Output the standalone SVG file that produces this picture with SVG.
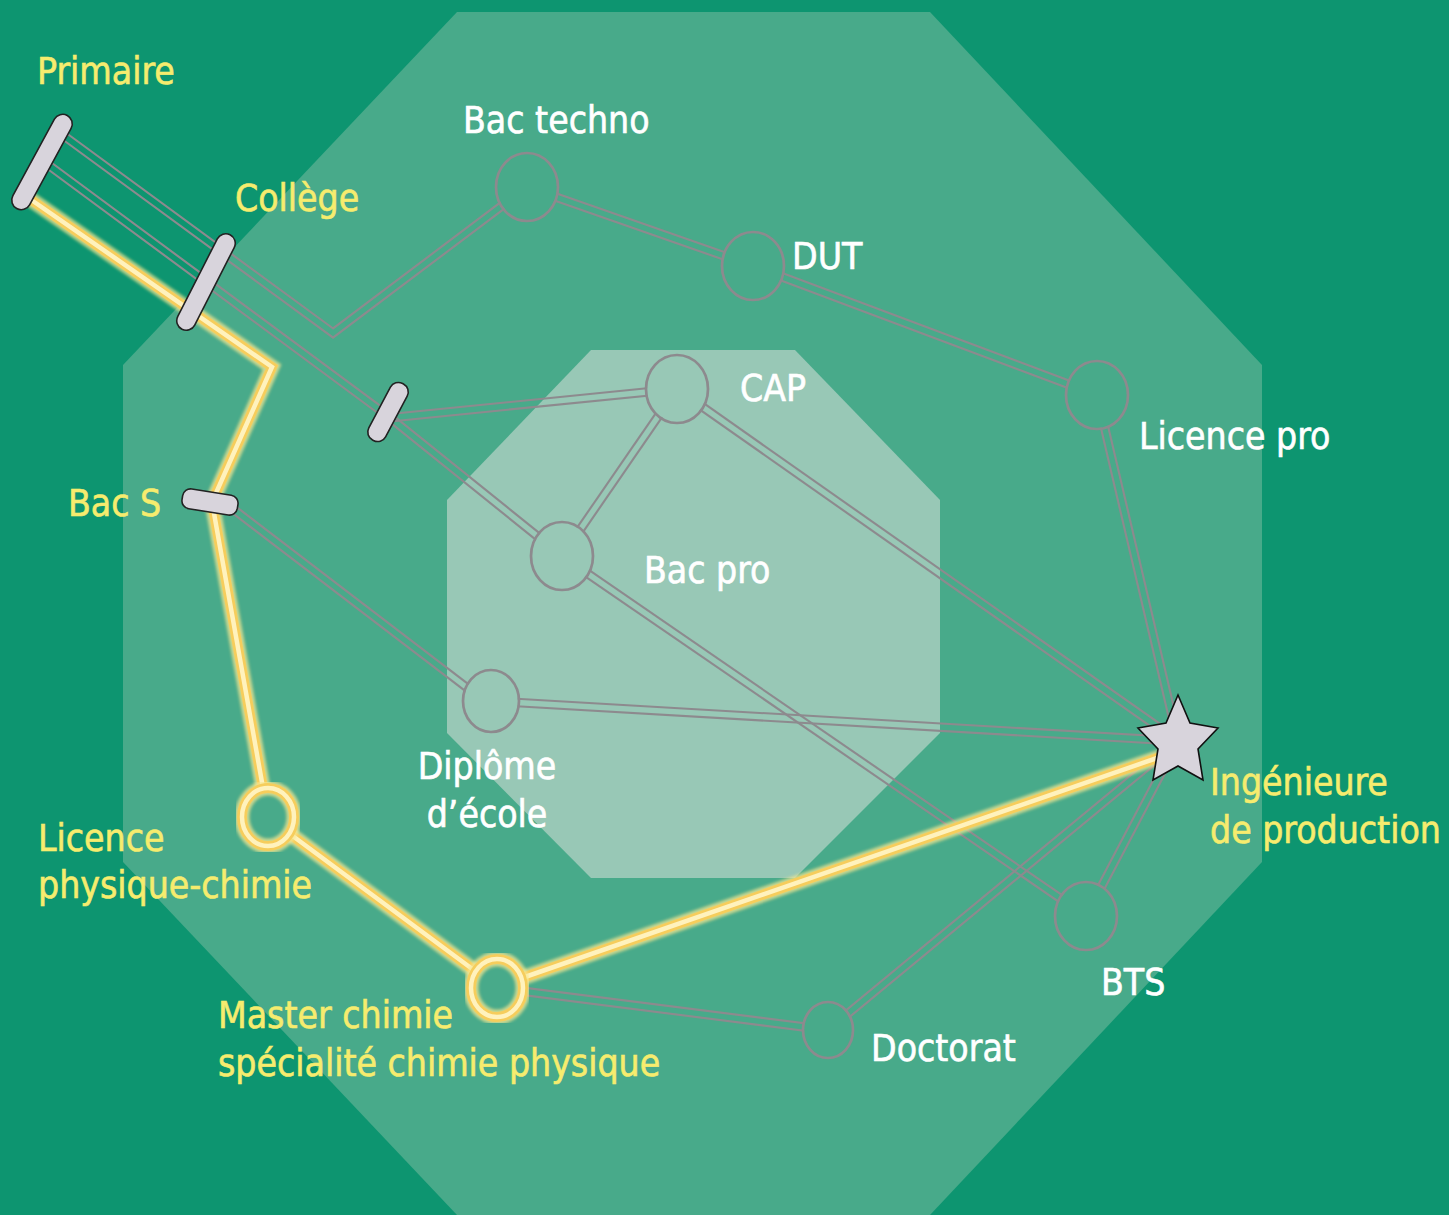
<svg xmlns="http://www.w3.org/2000/svg" xmlns:xlink="http://www.w3.org/1999/xlink" width="1449" height="1215" viewBox="0 0 1449 1215">
<style>
.t{font-family:"DejaVu Sans Condensed","DejaVu Sans",sans-serif;font-stretch:condensed;font-size:37px;stroke-width:0.6px}
.w{fill:#ffffff;stroke:#ffffff}
.y{fill:#f6ec6e;stroke:#f6ec6e}
.tube{fill:none;stroke:#8d8a8e;stroke-width:9.5;stroke-linejoin:miter}
.gap{fill:none;stroke:#000;stroke-width:5.3;stroke-linejoin:miter}
.node{fill:none;stroke:#8d8a8e;stroke-width:2.7}
.bar{fill:#d8d4dc;stroke:#222;stroke-width:1.6}
.yg{fill:none;stroke:#f6e792;stroke-width:15;opacity:.75}
.ym{fill:none;stroke:#f6cd5c;stroke-width:10}
.yc{fill:none;stroke:#fff2bd;stroke-width:4.5}
</style>
<defs>
<filter id="blur" x="-10%" y="-10%" width="120%" height="120%"><feGaussianBlur stdDeviation="1.4"/></filter>
<path id="c1" d="M60,133 L333,333 L527,187"/>
<path id="c2" d="M43,161 L388,416 L562,556"/>
<path id="c3" d="M388,418 L677,389"/>
<path id="c4" d="M527,187 L753,266"/>
<path id="c5" d="M753,266 L1097,395"/>
<path id="c6" d="M1097,395 L1178,741"/>
<path id="c7" d="M677,389 L1178,741"/>
<path id="c8" d="M677,389 L562,556"/>
<path id="c9" d="M562,556 L1086,916"/>
<path id="c10" d="M220,499 L470,690"/>
<path id="c11" d="M491,701 L1178,741"/>
<path id="c12" d="M1086,916 L1178,741"/>
<path id="c13" d="M497,988 L828,1030"/>
<path id="c14" d="M828,1030 L1178,741"/>
<path id="yp" d="M30,199 L272,367 L212,502 L263,788 M290,834 L475,971 M522,978 L1160,757"/>
<g id="holes" fill="#000">
<ellipse cx="527" cy="187" rx="30" ry="33"/>
<ellipse cx="753" cy="266" rx="30" ry="33"/>
<ellipse cx="1097" cy="395" rx="30" ry="33"/>
<ellipse cx="677" cy="389" rx="30" ry="33"/>
<ellipse cx="562" cy="556" rx="30" ry="33"/>
<ellipse cx="491" cy="701" rx="27" ry="30"/>
<ellipse cx="1086" cy="916" rx="30" ry="33"/>
<ellipse cx="828" cy="1030" rx="24" ry="27"/>
<ellipse cx="497" cy="988" rx="26" ry="29"/>
</g>
<mask id="m1" maskUnits="userSpaceOnUse" x="0" y="0" width="1449" height="1215"><rect width="1449" height="1215" fill="#fff"/><use href="#c1" class="gap"/><use href="#holes"/></mask>
<mask id="m2" maskUnits="userSpaceOnUse" x="0" y="0" width="1449" height="1215"><rect width="1449" height="1215" fill="#fff"/><use href="#c2" class="gap"/><use href="#holes"/></mask>
<mask id="m3" maskUnits="userSpaceOnUse" x="0" y="0" width="1449" height="1215"><rect width="1449" height="1215" fill="#fff"/><use href="#c3" class="gap"/><use href="#holes"/></mask>
<mask id="m4" maskUnits="userSpaceOnUse" x="0" y="0" width="1449" height="1215"><rect width="1449" height="1215" fill="#fff"/><use href="#c4" class="gap"/><use href="#holes"/></mask>
<mask id="m5" maskUnits="userSpaceOnUse" x="0" y="0" width="1449" height="1215"><rect width="1449" height="1215" fill="#fff"/><use href="#c5" class="gap"/><use href="#holes"/></mask>
<mask id="m6" maskUnits="userSpaceOnUse" x="0" y="0" width="1449" height="1215"><rect width="1449" height="1215" fill="#fff"/><use href="#c6" class="gap"/><use href="#holes"/></mask>
<mask id="m7" maskUnits="userSpaceOnUse" x="0" y="0" width="1449" height="1215"><rect width="1449" height="1215" fill="#fff"/><use href="#c7" class="gap"/><use href="#holes"/></mask>
<mask id="m8" maskUnits="userSpaceOnUse" x="0" y="0" width="1449" height="1215"><rect width="1449" height="1215" fill="#fff"/><use href="#c8" class="gap"/><use href="#holes"/></mask>
<mask id="m9" maskUnits="userSpaceOnUse" x="0" y="0" width="1449" height="1215"><rect width="1449" height="1215" fill="#fff"/><use href="#c9" class="gap"/><use href="#holes"/></mask>
<mask id="m10" maskUnits="userSpaceOnUse" x="0" y="0" width="1449" height="1215"><rect width="1449" height="1215" fill="#fff"/><use href="#c10" class="gap"/><use href="#holes"/></mask>
<mask id="m11" maskUnits="userSpaceOnUse" x="0" y="0" width="1449" height="1215"><rect width="1449" height="1215" fill="#fff"/><use href="#c11" class="gap"/><use href="#holes"/></mask>
<mask id="m12" maskUnits="userSpaceOnUse" x="0" y="0" width="1449" height="1215"><rect width="1449" height="1215" fill="#fff"/><use href="#c12" class="gap"/><use href="#holes"/></mask>
<mask id="m13" maskUnits="userSpaceOnUse" x="0" y="0" width="1449" height="1215"><rect width="1449" height="1215" fill="#fff"/><use href="#c13" class="gap"/><use href="#holes"/></mask>
<mask id="m14" maskUnits="userSpaceOnUse" x="0" y="0" width="1449" height="1215"><rect width="1449" height="1215" fill="#fff"/><use href="#c14" class="gap"/><use href="#holes"/></mask>
</defs>

<rect width="1449" height="1215" fill="#0d9570"/>
<polygon points="457,12 930,12 1262,365 1262,862 930,1215 457,1215 123,862 123,365" fill="#48aa8a"/>
<polygon points="591,350 795,350 940,500 940,733 795,878 591,878 447,733 447,500" fill="#98c8b6"/>

<g id="connectors">
<use href="#c1" class="tube" mask="url(#m1)"/>
<use href="#c2" class="tube" mask="url(#m2)"/>
<use href="#c3" class="tube" mask="url(#m3)"/>
<use href="#c4" class="tube" mask="url(#m4)"/>
<use href="#c5" class="tube" mask="url(#m5)"/>
<use href="#c6" class="tube" mask="url(#m6)"/>
<use href="#c7" class="tube" mask="url(#m7)"/>
<use href="#c8" class="tube" mask="url(#m8)"/>
<use href="#c9" class="tube" mask="url(#m9)"/>
<use href="#c10" class="tube" mask="url(#m10)"/>
<use href="#c11" class="tube" mask="url(#m11)"/>
<use href="#c12" class="tube" mask="url(#m12)"/>
<use href="#c13" class="tube" mask="url(#m13)"/>
<use href="#c14" class="tube" mask="url(#m14)"/>
<g id="path-highlight">
<use href="#yp" class="yg" filter="url(#blur)"/>
<use href="#yp" class="ym"/>
<use href="#yp" class="yc"/>
</g>
</g>

<g id="primaire"><rect class="bar" x="-53" y="-9.5" width="106" height="19" rx="9.5" transform="translate(42,162) rotate(-61.5)"/><text class="t y" x="37" y="84">Primaire</text></g>
<g id="college"><rect class="bar" x="-53" y="-9.5" width="106" height="19" rx="9.5" transform="translate(206,282) rotate(-63)"/><text class="t y" x="235" y="211">Collège</text></g>
<g id="junction"><rect class="bar" x="-32" y="-9.5" width="64" height="19" rx="9" transform="translate(388,412) rotate(-62)"/></g>
<g id="bac-s"><rect class="bar" x="-28" y="-10" width="56" height="20" rx="8" transform="translate(210,502) rotate(9)"/><text class="t y" x="68" y="516">Bac S</text></g>
<g id="bac-techno"><ellipse class="node" cx="527" cy="187" rx="31" ry="34"/><text class="t w" x="463" y="133">Bac techno</text></g>
<g id="dut"><ellipse class="node" cx="753" cy="266" rx="31" ry="34"/><text class="t w" x="792" y="269">DUT</text></g>
<g id="licence-pro"><ellipse class="node" cx="1097" cy="395" rx="31" ry="34"/><text class="t w" x="1139" y="449">Licence pro</text></g>
<g id="cap"><ellipse class="node" cx="677" cy="389" rx="31" ry="34"/><text class="t w" x="740" y="401">CAP</text></g>
<g id="bac-pro"><ellipse class="node" cx="562" cy="556" rx="31" ry="34"/><text class="t w" x="644" y="583">Bac pro</text></g>
<g id="diplome"><ellipse class="node" cx="491" cy="701" rx="28" ry="31"/><text class="t w" x="487" y="779" text-anchor="middle">Diplôme</text><text class="t w" x="487" y="827" text-anchor="middle">d’école</text></g>
<g id="bts"><ellipse class="node" cx="1086" cy="916" rx="31" ry="34"/><text class="t w" x="1101" y="995">BTS</text></g>
<g id="doctorat"><ellipse class="node" cx="828" cy="1030" rx="25" ry="28"/><text class="t w" x="871" y="1061">Doctorat</text></g>
<g id="licence-pc">
<ellipse class="yg" cx="268" cy="817" rx="26" ry="29" filter="url(#blur)"/><ellipse class="ym" cx="268" cy="817" rx="26" ry="29"/><ellipse class="yc" cx="268" cy="817" rx="26" ry="29"/>
<text class="t y" x="38" y="851">Licence</text><text class="t y" x="38" y="898">physique-chimie</text></g>
<g id="master">
<ellipse class="yg" cx="497" cy="988" rx="26" ry="29" filter="url(#blur)"/><ellipse class="ym" cx="497" cy="988" rx="26" ry="29"/><ellipse class="yc" cx="497" cy="988" rx="26" ry="29"/>
<text class="t y" x="218" y="1028">Master chimie</text><text class="t y" x="218" y="1076">spécialité chimie physique</text></g>
<g id="ingenieure">
<polygon points="1178,695 1190,723 1218,728 1198,749 1203,780 1178,766 1153,780 1158,749 1138,728 1166,723" fill="#d8d4dc" stroke="#111" stroke-width="1.6" stroke-linejoin="miter"/>
<text class="t y" x="1210" y="795">Ingénieure</text><text class="t y" x="1210" y="843">de production</text></g>
</svg>
